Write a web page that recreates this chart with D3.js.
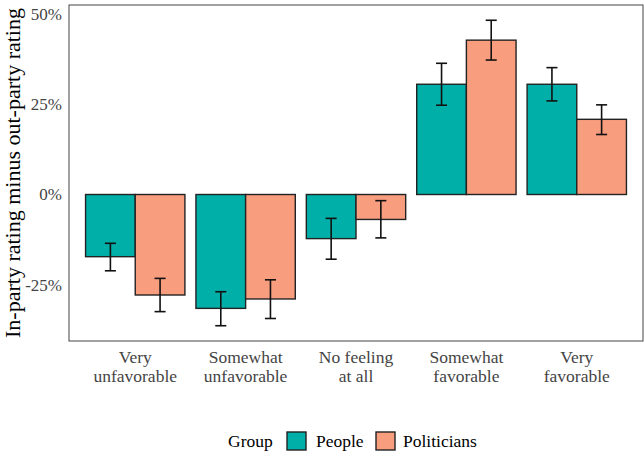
<!DOCTYPE html>
<html>
<head>
<meta charset="utf-8">
<script src="https://cdn.jsdelivr.net/npm/d3@7"></script>
<style>
  body { margin: 0; background: #fff; }
  svg { display: block; font-family: "Liberation Serif", "DejaVu Serif", serif; }
</style>
</head>
<body>
<svg id="chart" width="644" height="451"></svg>
<script>
// Feeling categories along the x axis
const categories = ['Very unfavorable', 'Somewhat unfavorable', 'No feeling at all', 'Somewhat favorable', 'Very favorable'];
const categoryLines = [['Very', 'unfavorable'], ['Somewhat', 'unfavorable'], ['No feeling', 'at all'], ['Somewhat', 'favorable'], ['Very', 'favorable']];
const groups = ['People', 'Politicians'];

// In-party minus out-party rating (%)
const peopleValues = [-17.2, -31.5, -12.2, 30.5, 30.5];
const peopleLow = [-21.1, -36.3, -17.9, 24.7, 25.9];
const peopleHigh = [-13.5, -26.9, -6.6, 36.3, 35.1];
const politicianValues = [-27.8, -28.9, -6.9, 42.7, 20.8];
const politicianLow = [-32.4, -34.3, -12.0, 37.2, 16.6];
const politicianHigh = [-23.2, -23.6, -1.7, 48.2, 24.8];

const yTicks = [-25, 0, 25, 50];
const colors = { People: '#00AFA7', Politicians: '#F99D7F' };

const rows = [];
categories.forEach((c, i) => {
    rows.push({ cat: c, group: 'People', value: peopleValues[i], low: peopleLow[i], high: peopleHigh[i] });
    rows.push({ cat: c, group: 'Politicians', value: politicianValues[i], low: politicianLow[i], high: politicianHigh[i] });
});

const svg = d3.select('#chart');
const panel = { left: 69, top: 5, right: 643, bottom: 341 };

// y scale with ggplot-style 5% expansion
const yMin = d3.min(rows, d => d.low);
const yMax = d3.max(rows, d => d.high);
const pad = (yMax - yMin) * 0.05;
const y = d3.scaleLinear()
    .domain([yMin - pad, yMax + pad])
    .range([panel.bottom, panel.top]);

const x = d3.scaleBand()
    .domain(categories)
    .range([panel.left, panel.right])
    .paddingInner(0.1)
    .paddingOuter(0.15);

const xg = d3.scaleBand()
    .domain(groups)
    .range([0, x.bandwidth()]);

// Bars
svg.append('g')
    .selectAll('rect')
    .data(rows)
    .join('rect')
    .attr('x', d => x(d.cat) + xg(d.group))
    .attr('y', d => y(Math.max(0, d.value)))
    .attr('width', xg.bandwidth())
    .attr('height', d => Math.abs(y(d.value) - y(0)))
    .attr('fill', d => colors[d.group])
    .attr('stroke', '#222')
    .attr('stroke-width', 1.4);

// Error bars
const whisker = x.step() * 0.05;
const err = svg.append('g')
    .attr('stroke', '#111')
    .attr('stroke-width', 1.6)
    .selectAll('g')
    .data(rows)
    .join('g')
    .attr('transform', d => `translate(${x(d.cat) + xg(d.group) + xg.bandwidth() / 2},0)`);

err.append('line')
    .attr('y1', d => y(d.low))
    .attr('y2', d => y(d.high));
err.append('line')
    .attr('x1', -whisker).attr('x2', whisker)
    .attr('y1', d => y(d.low)).attr('y2', d => y(d.low));
err.append('line')
    .attr('x1', -whisker).attr('x2', whisker)
    .attr('y1', d => y(d.high)).attr('y2', d => y(d.high));

// Panel border
svg.append('rect')
    .attr('x', panel.left)
    .attr('y', panel.top)
    .attr('width', panel.right - panel.left)
    .attr('height', panel.bottom - panel.top)
    .attr('fill', 'none')
    .attr('stroke', '#555')
    .attr('stroke-width', 1.1);

// Y axis
const yAxis = svg.append('g')
    .attr('transform', `translate(${panel.left},0)`)
    .call(d3.axisLeft(y).tickValues(yTicks).tickSize(0).tickPadding(7).tickFormat(d => d + '%'));
yAxis.select('.domain').remove();
yAxis.selectAll('text')
    .attr('font-size', 17)
    .attr('fill', '#444')
    .style('font-family', '"Liberation Serif", serif');

// X axis labels (two lines)
const xLab = svg.append('g')
    .selectAll('text')
    .data(categories)
    .join('text')
    .attr('x', d => x(d) + x.bandwidth() / 2)
    .attr('y', 363)
    .attr('text-anchor', 'middle')
    .attr('font-size', 17.5)
    .attr('fill', '#444');
xLab.selectAll('tspan')
    .data((d, i) => categoryLines[i])
    .join('tspan')
    .attr('x', function() { return d3.select(this.parentNode).attr('x'); })
    .attr('dy', (d, i) => i === 0 ? 0 : 19)
    .text(d => d);

// Y axis title
svg.append('text')
    .attr('transform', `translate(20,${(panel.top + panel.bottom) / 2}) rotate(-90)`)
    .attr('text-anchor', 'middle')
    .attr('font-size', 22)
    .attr('fill', '#000')
    .text('In-party rating minus out-party rating');

// Legend
const legend = svg.append('g');
legend.append('text')
    .attr('x', 228).attr('y', 447)
    .attr('font-size', 17.5)
    .text('Group');
const keyX = [287, 376];
const labelX = [316, 403];
groups.forEach((g, i) => {
    legend.append('rect')
        .attr('x', keyX[i]).attr('y', 432)
        .attr('width', 19).attr('height', 18)
        .attr('fill', colors[g])
        .attr('stroke', '#222')
        .attr('stroke-width', 1.4);
    legend.append('text')
        .attr('x', labelX[i]).attr('y', 447)
        .attr('font-size', 17.5)
        .text(g);
});
</script>
</body>
</html>
